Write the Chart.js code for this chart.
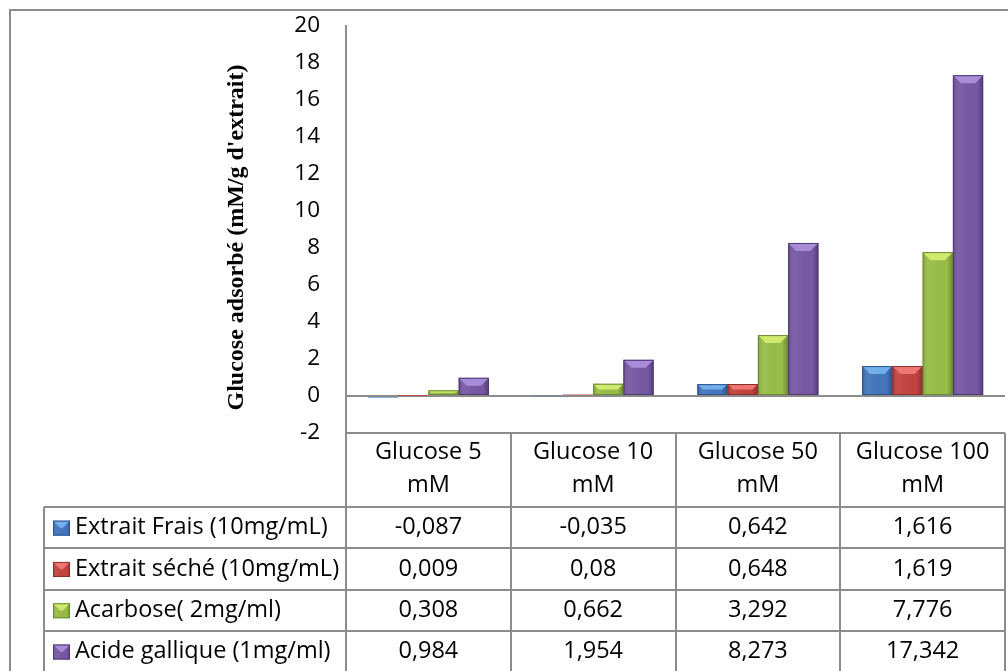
<!DOCTYPE html>
<html>
<head>
<meta charset="utf-8">
<script src="https://cdn.jsdelivr.net/npm/chart.js@4"></script>
<style>
html, body { margin: 0; padding: 0; background: #fff; }
</style>
</head>
<body>
<canvas id="myChart" width="1008" height="671"></canvas>
<script>
// données
var categories = [["Glucose 5", "mM"], ["Glucose 10", "mM"], ["Glucose 50", "mM"], ["Glucose 100", "mM"]];
var series = ["Extrait Frais (10mg/mL)", "Extrait séché (10mg/mL)", "Acarbose( 2mg/ml)", "Acide gallique (1mg/ml)"];
var extraitFrais = [-0.087, -0.035, 0.642, 1.616];
var extraitSeche = [0.009, 0.08, 0.648, 1.619];
var acarbose = [0.308, 0.662, 3.292, 7.776];
var acideGallique = [0.984, 1.954, 8.273, 17.342];
var yTicks = [-2, 0, 2, 4, 6, 8, 10, 12, 14, 16, 18, 20];
var yTitre = "Glucose adsorbé (mM/g d'extrait)";

var valeurs = [extraitFrais, extraitSeche, acarbose, acideGallique];
var couleurs = ["#4276BB", "#C2433F", "#98BD47", "#7658A3"];
var clairs = ["#72AEEC", "#EE7773", "#CFEA6C", "#A98CD8"];
var fonces = ["#2C548C", "#8C2D2A", "#6A8930", "#4D3A72"];
var police = "'Open Sans', sans-serif";

function formatFr(v) {
    return String(v).replace('.', ',');
}

// cadre extérieur + titre de l'axe Y
var cadre = {
    id: 'cadre',
    beforeDraw: function (chart) {
        var ctx = chart.ctx;
        ctx.save();
        ctx.fillStyle = '#fff';
        ctx.fillRect(0, 0, chart.width, chart.height);
        ctx.strokeStyle = '#8c8c8c';
        ctx.lineWidth = 2;
        ctx.strokeRect(10, 10, 1100, 800);
        ctx.restore();
    },
    afterDraw: function (chart) {
        var ctx = chart.ctx;
        ctx.save();
        ctx.translate(237, 237.5);
        ctx.rotate(-Math.PI / 2);
        ctx.fillStyle = '#000';
        ctx.font = "bold 24px 'Liberation Serif', serif";
        ctx.textAlign = 'center';
        ctx.textBaseline = 'middle';
        ctx.fillText(yTitre, 0, 0);
        ctx.restore();
    }
};

// effet biseauté façon Excel sur les barres
function biseau(ctx, l, t, w, h, i) {
    if (h < 2) return;
    var r = l + w;
    var d = Math.min(8, h / 2);
    ctx.save();
    ctx.beginPath();
    ctx.rect(l, t, w, h);
    ctx.clip();
    var g = ctx.createLinearGradient(l, 0, r, 0);
    g.addColorStop(0, 'rgba(0,0,0,0.15)');
    g.addColorStop(0.2, 'rgba(255,255,255,0.06)');
    g.addColorStop(0.8, 'rgba(0,0,0,0)');
    g.addColorStop(1, 'rgba(0,0,0,0.28)');
    ctx.fillStyle = g;
    ctx.fillRect(l, t, w, h);
    ctx.fillStyle = clairs[i];
    ctx.beginPath();
    ctx.moveTo(l, t);
    ctx.lineTo(r, t);
    ctx.lineTo(r - d, t + d);
    ctx.lineTo(l + d, t + d);
    ctx.closePath();
    ctx.fill();
    ctx.restore();
    ctx.save();
    ctx.strokeStyle = fonces[i];
    ctx.lineWidth = 1;
    ctx.strokeRect(l + 0.5, t + 0.5, w - 1, h - 1);
    ctx.restore();
}

var biseauPlugin = {
    id: 'biseau',
    afterDatasetsDraw: function (chart) {
        var ctx = chart.ctx;
        chart.data.datasets.forEach(function (ds, i) {
            var meta = chart.getDatasetMeta(i);
            meta.data.forEach(function (bar) {
                var p = bar.getProps(['x', 'y', 'base', 'width'], true);
                var t = Math.min(p.y, p.base);
                var h = Math.abs(p.base - p.y);
                biseau(ctx, p.x - p.width / 2, t, p.width, h, i);
            });
        });
    }
};

// table de données sous le graphique
var tableau = {
    id: 'tableau',
    afterDraw: function (chart) {
        var ctx = chart.ctx;
        var xs = chart.scales.x;
        var area = chart.chartArea;
        var colW = (area.right - area.left) / categories.length;
        var haut = area.bottom;
        var enteteH = 74;
        var ligneH = 41.3;
        var gauche = 44;
        var bas = chart.height + 5;

        ctx.save();
        ctx.strokeStyle = '#8c8c8c';
        ctx.lineWidth = 2;
        ctx.beginPath();
        for (var c = 0; c <= categories.length; c++) {
            var x = Math.round(area.left + c * colW);
            ctx.moveTo(x, haut);
            ctx.lineTo(x, bas);
        }
        ctx.moveTo(gauche, haut + enteteH);
        ctx.lineTo(gauche, bas);
        for (var r = 0; r < series.length; r++) {
            var y = Math.round(haut + enteteH + r * ligneH);
            ctx.moveTo(gauche, y);
            ctx.lineTo(area.right, y);
        }
        ctx.stroke();

        ctx.fillStyle = '#000';
        ctx.font = '23.5px ' + police;
        ctx.textAlign = 'center';
        ctx.textBaseline = 'middle';
        categories.forEach(function (cat, k) {
            var cx = xs.getPixelForValue(k);
            ctx.fillText(cat[0], cx, haut + 19);
            ctx.fillText(cat[1], cx, haut + 52);
        });

        series.forEach(function (nom, s) {
            var cy = haut + enteteH + ligneH * (s + 0.5);
            ctx.textAlign = 'center';
            valeurs[s].forEach(function (v, k) {
                ctx.fillText(formatFr(v), xs.getPixelForValue(k), cy);
            });
            // marqueur de légende
            ctx.fillStyle = couleurs[s];
            ctx.fillRect(53, cy - 7, 17, 15);
            biseau(ctx, 53, cy - 7, 17, 15, s);
            ctx.fillStyle = '#000';
            ctx.textAlign = 'left';
            ctx.fillText(nom, 75, cy);
        });
        ctx.restore();
    }
};

var ctx = document.getElementById('myChart').getContext('2d');
var chart = new Chart(ctx, {
    type: 'bar',
    data: {
        labels: categories.map(function (c) { return c.join(' '); }),
        datasets: series.map(function (nom, i) {
            return {
                label: nom,
                data: valeurs[i],
                backgroundColor: couleurs[i],
                borderWidth: 0,
                categoryPercentage: 0.735,
                barPercentage: 1
            };
        })
    },
    options: {
        responsive: false,
        animation: false,
        layout: { padding: { left: 0, top: 26, right: 3, bottom: 238 } },
        plugins: {
            legend: { display: false },
            tooltip: { enabled: false }
        },
        scales: {
            x: { display: false },
            y: {
                min: -2,
                max: 20,
                afterBuildTicks: function (axis) {
                    axis.ticks = yTicks.map(function (v) { return { value: v }; });
                },
                afterFit: function (axis) {
                    axis.width = 346;
                    axis.paddingTop = 0;
                    axis.paddingBottom = 0;
                },
                ticks: {
                    color: '#000',
                    padding: 26,
                    font: { family: police, size: 22.5 }
                },
                grid: {
                    drawTicks: false,
                    lineWidth: 2,
                    color: function (c) {
                        if (c.tick && (c.tick.value === 0 || c.tick.value === -2)) return '#8c8c8c';
                        return 'rgba(0,0,0,0)';
                    }
                },
                border: { color: '#8c8c8c', width: 2 },
                title: { display: false }
            }
        }
    },
    plugins: [cadre, biseauPlugin, tableau]
});
</script>
</body>
</html>
